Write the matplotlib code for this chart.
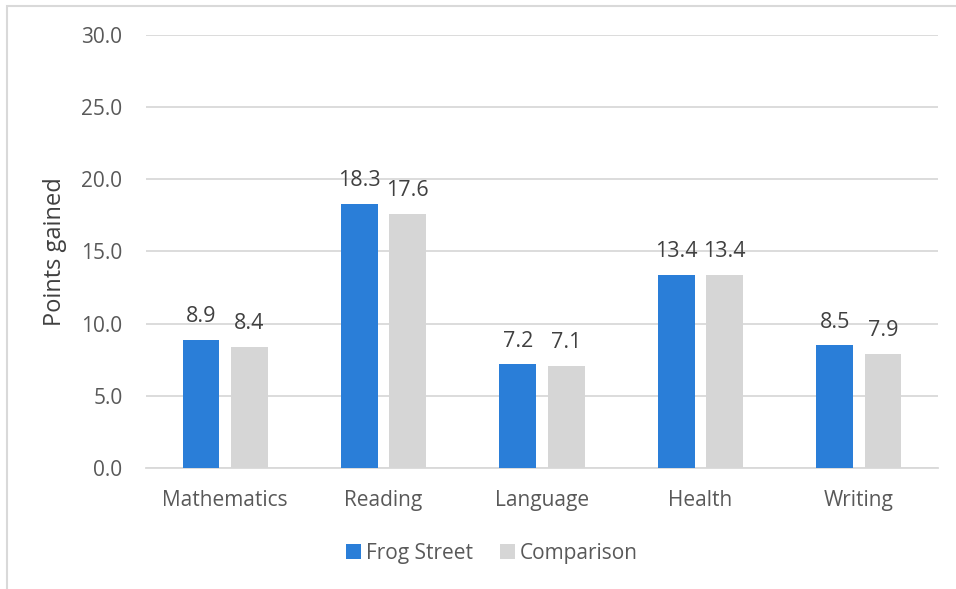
import matplotlib
matplotlib.use("Agg")
from matplotlib import pyplot as plt
from matplotlib.patches import Rectangle
import numpy as np

categories = ["Mathematics", "Reading", "Language", "Health", "Writing"]
frog_street = [8.9, 18.3, 7.2, 13.4, 8.5]
comparison = [8.4, 17.6, 7.1, 13.4, 7.9]
series_names = ["Frog Street", "Comparison"]
y_ticks = [0, 5, 10, 15, 20, 25, 30]

BLUE = "#2A7ED8"
GREY = "#D6D6D6"
TEXT = "#595959"
GRID = "#D9D9D9"

plt.rcParams["font.family"] = ["Open Sans", "DejaVu Sans"]

fig = plt.figure(figsize=(9.56, 5.89), dpi=100)
ax = fig.add_axes([146 / 956, 1 - 468 / 589, 792 / 956, 433 / 589])

x = np.arange(len(categories))
width = 0.233
offset = 0.153
bars1 = ax.bar(x - offset, frog_street, width, color=BLUE, label=series_names[0], zorder=3)
bars2 = ax.bar(x + offset, comparison, width, color=GREY, label=series_names[1], zorder=3)

for bars in (bars1, bars2):
    for b in bars:
        ax.annotate(f"{b.get_height():.1f}", (b.get_x() + b.get_width() / 2, b.get_height()),
                    xytext=(0, 9), textcoords="offset points", ha="center", va="bottom",
                    fontsize=15.5, color="#404040")

ax.set_xlim(-0.5, len(categories) - 0.5)
ax.set_ylim(0, 30)
ax.set_yticks(y_ticks)
ax.set_yticklabels([f"{t:.1f}" for t in y_ticks])
ax.set_xticks(x)
ax.set_xticklabels(categories)
ax.yaxis.grid(True, color=GRID, linewidth=1.3, zorder=0)
ax.tick_params(axis="both", length=0, labelsize=15, labelcolor=TEXT)
ax.tick_params(axis="y", pad=17)
ax.tick_params(axis="x", pad=16)
for side in ("top", "right", "left"):
    ax.spines[side].set_visible(False)
ax.spines["bottom"].set_color(GRID)
ax.spines["bottom"].set_linewidth(1.3)
ax.set_ylabel("Points gained", fontsize=17, color="#404040", labelpad=10)

fig.legend(handles=[bars1, bars2], labels=series_names, loc="center",
           bbox_to_anchor=(492 / 956, 1 - 553 / 589), ncol=2, frameon=False,
           fontsize=15, labelcolor=TEXT, handlelength=0.7, handleheight=0.7,
           handletextpad=0.25, columnspacing=1.3)

# light frame round the whole chart
fig.patches.append(Rectangle((7 / 956, -0.01), 1.0, 1 - 6 / 589 + 0.01, transform=fig.transFigure,
                             fill=False, edgecolor=GRID, linewidth=1.5))

fig.savefig("out.png", dpi=100)
